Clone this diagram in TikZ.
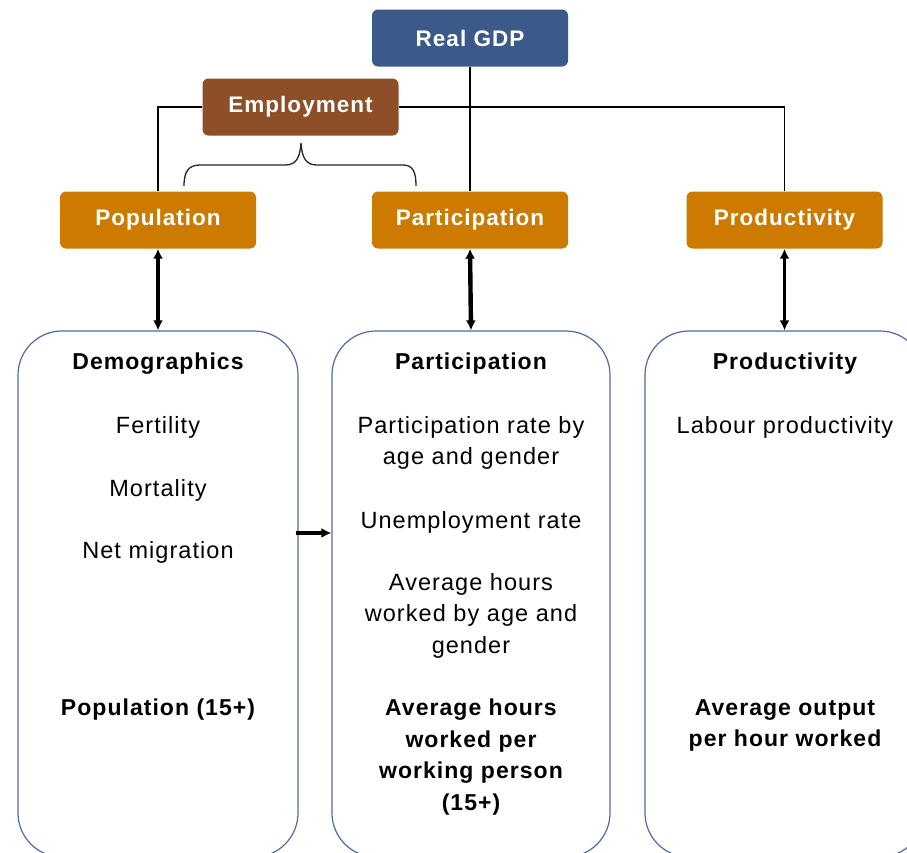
\documentclass[tikz,border=0pt]{standalone}
\usepackage{fontspec}
\setmainfont{Liberation Sans}[LetterSpace=4.5]
\usetikzlibrary{arrows.meta}
\definecolor{gdpblue}{HTML}{3B5A89}
\definecolor{empbrown}{HTML}{8E4F28}
\definecolor{factorange}{HTML}{CC7A00}
\definecolor{boxline}{HTML}{4F6BA0}
\tikzset{
  smallbox/.style={draw=none, rounded corners=6pt, minimum width=196pt, minimum height=57pt,
    text=white, font=\fontsize{22.5}{27}\selectfont\bfseries, inner sep=0pt},
  bigbox/.style={draw=boxline, line width=1.2pt, rounded corners=44pt, minimum width=280pt,
    minimum height=526pt, inner sep=0pt},
  bodytext/.style={align=center, inner sep=0pt, font=\fontsize{23.5}{31.5}\selectfont},
  headtext/.style={align=center, inner sep=0pt, font=\fontsize{23}{31.5}\selectfont\bfseries},
  conn/.style={draw=black, line width=1.4pt},
  dbl/.style={draw=black, line width=3.4pt, {Latex[length=10pt,width=10pt]}-{Latex[length=10pt,width=10pt]}},
  onearrow/.style={draw=black, line width=3.2pt, -{Latex[length=10pt,width=10pt]}},
}
\begin{document}
\begin{tikzpicture}[x=1pt,y=-1pt]
\useasboundingbox (0,0) rectangle (907,852);
\fill[white] (0,0) rectangle (907,852);
\clip (0,0) rectangle (907,852);

% top boxes
\node[smallbox, fill=gdpblue] (gdp) at (470,38) {Real GDP};
\node[smallbox, fill=empbrown] (emp) at (300.5,107) {Employment};
\node[smallbox, fill=factorange] (pop) at (158,220) {Population};
\node[smallbox, fill=factorange] (part) at (470,220) {Participation};
\node[smallbox, fill=factorange] (prod) at (784.5,220) {Productivity};

% big boxes
\node[bigbox] (demo) at (158,594) {};
\node[bigbox, minimum width=278pt] (partbox) at (471,594) {};
\node[bigbox, minimum width=279pt] (prodbox) at (784.5,594) {};

% connectors
\draw[conn] (gdp.south) -- (part.north);
\draw[conn] (emp.west) -| (pop.north);
\draw[conn] (emp.east) -| (prod.north);
\draw[conn, line width=1.3pt, draw=black!85] (184,186) .. controls (184,171) and (189,165) .. (200,165)
  -- (285,165) .. controls (296,165) and (300,158) .. (301,143)
  .. controls (302,158) and (306,165) .. (317,165) -- (403,165)
  .. controls (413,165) and (416,172) .. (416,186);

\draw[dbl] (pop.south) -- (demo.north);
\draw[dbl, line width=4.4pt] (part.south) -- (partbox.north);
\draw[dbl] (prod.south) -- (prodbox.north);
\draw[onearrow] ([yshift=61pt,xshift=-3pt]demo.east) -- ([yshift=61pt]partbox.west);

% left column
\node[headtext] (t1) at (158,364) {Demographics};
\node[bodytext] (t2) at (158,427) {Fertility};
\node[bodytext] (t3) at (158,490) {Mortality};
\node[bodytext] (t4) at (158,552) {Net migration};
\node[headtext] (t5) at (158,710) {Population (15+)};

% middle column
\node[headtext] (m1) at (471,364) {Participation};
\node[bodytext] (m2) at (471,443) {Participation rate by\\age and gender};
\node[bodytext] (m3) at (471,522) {Unemployment rate};
\node[bodytext] (m4) at (471,615.5) {Average hours\\worked by age and\\gender};
\node[headtext] (m5) at (471,757) {Average hours\\worked per\\working person\\(15+)};

% right column
\node[headtext] (r1) at (785,364) {Productivity};
\node[bodytext] (r2) at (785,427) {Labour productivity};
\node[headtext] (r3) at (785,725.5) {Average output\\per hour worked};
\end{tikzpicture}
\end{document}
